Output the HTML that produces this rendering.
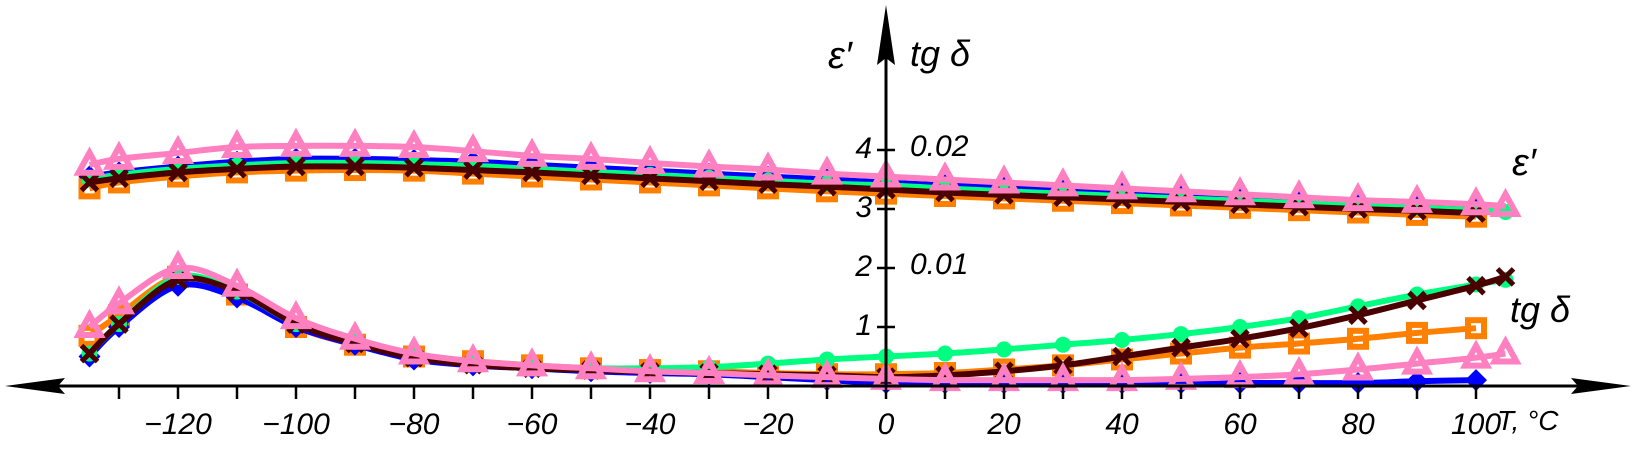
<!DOCTYPE html>
<html><head><meta charset="utf-8"><style>
html,body{margin:0;padding:0;background:#fff}
svg text{font-family:"Liberation Sans",sans-serif;font-style:italic;fill:#000}
</style></head><body>
<svg id="chart" width="1636" height="458" viewBox="0 0 1636 458" xmlns="http://www.w3.org/2000/svg">
<g id="series"></g>
<g id="axes"></g>
</svg>
<script>
const temps=[-135,-130,-120,-110,-100,-90,-80,-70,-60,-50,-40,-30,-20,-10,0,10,20,30,40,50,60,70,80,90,100,105];
const epsPink=[3.75,3.85,3.95,4.05,4.07,4.07,4.05,3.98,3.9,3.85,3.78,3.72,3.67,3.6,3.55,3.5,3.45,3.4,3.35,3.3,3.25,3.2,3.15,3.12,3.08,3.05];
const epsBlue=[3.55,3.62,3.72,3.8,3.85,3.85,3.83,3.8,3.75,3.7,3.65,3.6,3.55,3.5,3.45,3.4,3.36,3.32,3.28,3.24,3.2,3.15,3.12,3.08,3.05,null];
const epsGreen=[3.5,3.58,3.68,3.74,3.78,3.78,3.76,3.73,3.68,3.63,3.58,3.53,3.48,3.43,3.4,3.35,3.3,3.26,3.22,3.18,3.14,3.1,3.06,3.02,2.98,2.95];
const epsBrown=[3.45,3.52,3.62,3.68,3.72,3.72,3.7,3.66,3.62,3.57,3.52,3.47,3.42,3.38,3.33,3.28,3.24,3.2,3.16,3.12,3.08,3.04,3.0,2.97,2.93,null];
const epsOrange=[3.35,3.45,3.55,3.62,3.65,3.66,3.65,3.6,3.55,3.5,3.45,3.4,3.35,3.3,3.26,3.22,3.18,3.14,3.1,3.06,3.02,2.98,2.94,2.9,2.87,null];
const tgBlue=[0.5,1.0,1.7,1.5,1.0,0.7,0.45,0.35,0.3,0.25,0.22,0.2,0.15,0.1,0.05,0.05,0.05,0.05,0.05,0.05,0.05,0.05,0.05,0.08,0.1,null];
const tgPink=[1.0,1.4,2.0,1.7,1.15,0.8,0.55,0.42,0.35,0.3,0.25,0.22,0.18,0.15,0.12,0.1,0.1,0.1,0.1,0.12,0.15,0.2,0.28,0.38,0.48,0.55];
const tgGreen=[0.55,1.05,1.85,1.6,1.05,0.75,0.5,0.4,0.33,0.3,0.3,0.32,0.38,0.45,0.5,0.55,0.62,0.7,0.78,0.88,1.0,1.15,1.35,1.55,1.72,1.8];
const tgBrown=[0.55,1.05,1.8,1.6,1.05,0.72,0.48,0.36,0.3,0.27,0.24,0.22,0.2,0.18,0.15,0.18,0.25,0.35,0.5,0.65,0.8,0.98,1.2,1.45,1.7,1.85];
const tgOrange=[0.85,1.2,1.85,1.55,1.0,0.7,0.5,0.42,0.35,0.3,0.27,0.25,0.22,0.2,0.2,0.22,0.28,0.35,0.45,0.55,0.65,0.72,0.8,0.9,0.98,null];
const xTicks=[-130,-120,-110,-100,-90,-80,-70,-60,-50,-40,-30,-20,-10,0,10,20,30,40,50,60,70,80,90,100];
const xLabels=[-120,-100,-80,-60,-40,-20,0,20,40,60,80,100];
const yTicks=[1,2,3,4];
const yLeftLabels=["1","2","3","4"];
const yRightLabels=["","0.01","","0.02"];

const NS="http://www.w3.org/2000/svg";
const X0=886,PX=5.9,Y0=386,PY=59;
const xs=t=>X0+t*PX, ys=v=>Y0-v*PY;
const S=document.getElementById('series'),A=document.getElementById('axes');
function mk(tag,attrs,parent){const e=document.createElementNS(NS,tag);for(const k in attrs)e.setAttribute(k,attrs[k]);parent.appendChild(e);return e;}
function pts(vals){const p=[];vals.forEach((v,i)=>{if(v!==null)p.push([xs(temps[i]),ys(v)]);});return p;}
function smooth(p){let d="M"+p[0][0]+","+p[0][1];for(let i=0;i<p.length-1;i++){const p0=p[i-1]||p[i],p1=p[i],p2=p[i+1],p3=p[i+2]||p2;
const c1x=p1[0]+(p2[0]-p0[0])/6,c1y=p1[1]+(p2[1]-p0[1])/6,c2x=p2[0]-(p3[0]-p1[0])/6,c2y=p2[1]-(p3[1]-p1[1])/6;
d+=" C"+c1x+","+c1y+" "+c2x+","+c2y+" "+p2[0]+","+p2[1];}return d;}
function marker(type,x,y,col,g){let e;
if(type==='diamond')e=mk('polygon',{points:`${x},${y-11} ${x+11},${y} ${x},${y+11} ${x-11},${y}`,fill:col},g);
else if(type==='tri')e=mk('polygon',{points:`${x},${y-12} ${x+11},${y+8} ${x-11},${y+8}`,fill:'none',stroke:col,'stroke-width':6},g);
else if(type==='circle')e=mk('circle',{cx:x,cy:y,r:8,fill:col},g);
else if(type==='square')e=mk('rect',{x:x-8,y:y-8,width:16,height:16,fill:'none',stroke:col,'stroke-width':6},g);
else {e=mk('path',{d:`M${x-8},${y-8}L${x+8},${y+8}M${x+8},${y-8}L${x-8},${y+8}`,stroke:col,'stroke-width':5},g);}

}
const series=[
 ['orange',epsOrange,tgOrange,'#ff8000','square'],
 ['blue',epsBlue,tgBlue,'#0000ff','diamond'],
 ['green',epsGreen,tgGreen,'#00ff80','circle'],
 ['brown',epsBrown,tgBrown,'#4a0000','cross'],
 ['pink',epsPink,tgPink,'#ff80c0','tri']];
series.forEach(([nm,eps,tg,col,type])=>{
 [[eps,'eps'],[tg,'tg']].forEach(([vals,kind])=>{
  const g=mk('g',{},S);
  
  
  const p=pts(vals);
  const l=mk('path',{d:smooth(p),fill:'none',stroke:col,'stroke-width':6},g);
  
  
  p.forEach(q=>marker(type,q[0],q[1],col,g));
 });
});
const ax=mk('path',{d:`M20,${Y0}H1615M${X0},${Y0}V40`,stroke:'#000','stroke-width':3,fill:'none'},A);


const ar=mk('path',{d:`M5,${Y0}L65,${Y0-8}L58,${Y0}L65,${Y0+8}Z M1631,${Y0}L1571,${Y0-8}L1578,${Y0}L1571,${Y0+8}Z M${X0},5L${X0-9},65L${X0},58L${X0+9},65Z`,fill:'#000'},A);


xTicks.forEach(t=>{const e=mk('line',{x1:xs(t),x2:xs(t),y1:Y0,y2:Y0+13,stroke:'#000','stroke-width':2.5},A);

});
xLabels.forEach(t=>{const e=mk('text',{x:xs(t),y:Y0+48,'text-anchor':'middle','font-size':30},A);e.textContent=(t<0?'\u2212':'')+Math.abs(t);

});
yTicks.forEach((v,i)=>{const e=mk('line',{x1:X0-9,x2:X0+9,y1:ys(v),y2:ys(v),stroke:'#000','stroke-width':2.5},A);


const a=mk('text',{x:X0-14,y:ys(v)+8,'text-anchor':'end','font-size':30},A);a.textContent=yLeftLabels[i];


if(yRightLabels[i]){const b=mk('text',{x:X0+24,y:ys(v)+6,'font-size':30},A);b.textContent=yRightLabels[i];

}});
function lbl(txt,x,y,sz,name){const e=mk('text',{x:x,y:y,'font-size':sz},A);e.textContent=txt;

}
lbl('\u03b5\u2032',828,68,38,'eps-axis-title');
lbl('tg \u03b4',910,66,36,'tg-axis-title');
lbl('\u03b5\u2032',1512,175,38,'eps-curve-label');
lbl('tg \u03b4',1510,322,36,'tg-curve-label');
lbl('T, \u00b0C',1497,430,28,'x-axis-title');
</script>
</body></html>
